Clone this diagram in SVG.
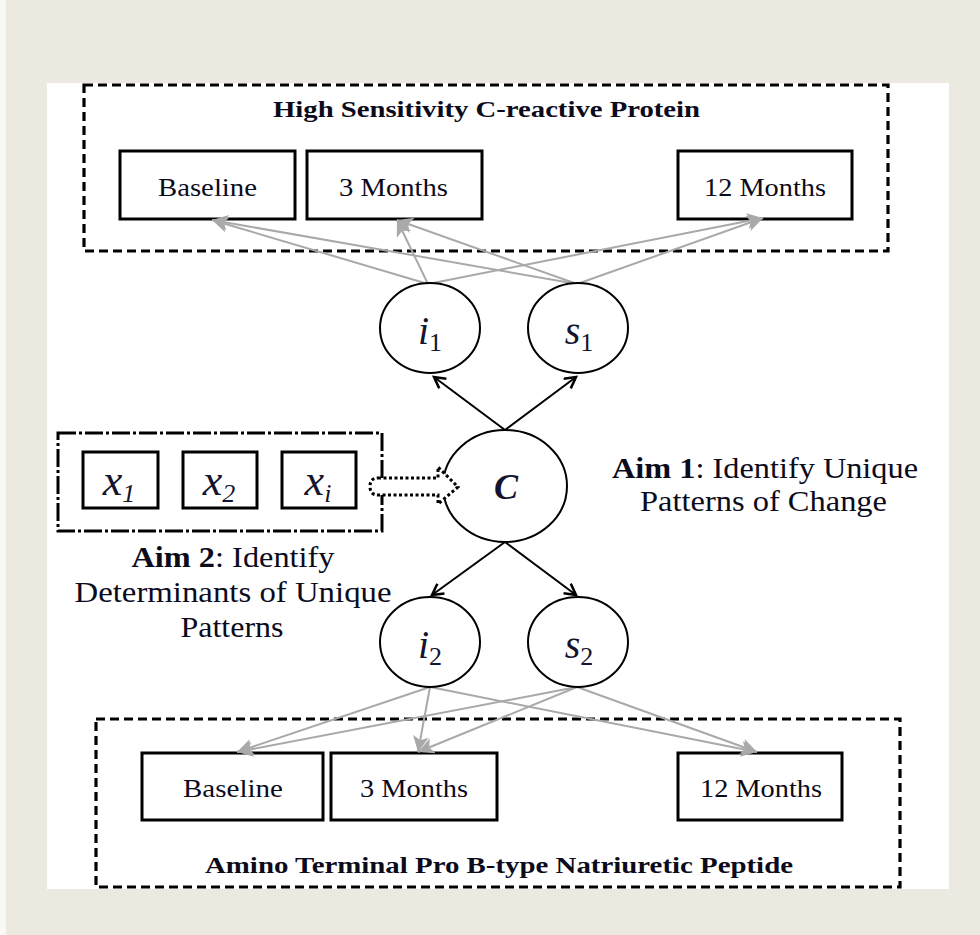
<svg xmlns="http://www.w3.org/2000/svg" width="980" height="935" viewBox="0 0 980 935">
  <style>
    .lbl { font-family: "Liberation Serif", "Times New Roman", serif; fill: #0b0b1c; }
    .ttl { font-family: "Liberation Serif", "Times New Roman", serif; font-weight: bold; font-size: 24px; fill: #0b0b1c; }
    .math { font-family: "Liberation Serif", "Times New Roman", serif; font-style: italic; fill: #14142e; }
    .box { fill: #ffffff; stroke: #000000; stroke-width: 3; }
    .circ { fill: #ffffff; stroke: #000000; stroke-width: 2; }
    .grp { fill: none; stroke: #000000; stroke-width: 3.2; stroke-dasharray: 9 5; }
    .gray { stroke: #a9a9a9; stroke-width: 2; fill: none; marker-end: url(#grayHead); }
    .blk { stroke: #000000; stroke-width: 2; fill: none; marker-end: url(#blkHead); }
  </style>
  <defs>
    <marker id="grayHead" markerUnits="userSpaceOnUse" markerWidth="20" markerHeight="18" refX="16" refY="8" orient="auto">
      <path d="M0,0 L16,8 L0,16 L4,8 Z" fill="#a9a9a9"/>
    </marker>
    <marker id="blkHead" markerUnits="userSpaceOnUse" markerWidth="16" markerHeight="16" refX="12" refY="7" orient="auto">
      <path d="M1,1 L12,7 L1,13" fill="none" stroke="#000000" stroke-width="2.5"/>
    </marker>
  </defs>

  <!-- page background -->
  <rect x="0" y="0" width="980" height="935" fill="#ece9e0"/>
  <rect x="0" y="0" width="6" height="935" fill="#f8f8f5"/>
  <rect x="47" y="83" width="902" height="806" fill="#ffffff"/>

  <!-- hs-CRP block -->
  <g id="crp-group">
    <rect class="grp" x="84" y="85" width="804" height="166"/>
    <text class="ttl" x="486.5" y="117" text-anchor="middle" textLength="427" lengthAdjust="spacingAndGlyphs">High Sensitivity C-reactive Protein</text>
  </g>
  <g id="crp-baseline">
    <rect class="box" x="120" y="151" width="175" height="68"/>
    <text class="lbl" x="207.5" y="196" font-size="25" text-anchor="middle" textLength="99" lengthAdjust="spacingAndGlyphs">Baseline</text>
  </g>
  <g id="crp-3m">
    <rect class="box" x="307" y="151" width="175" height="68"/>
    <text class="lbl" x="393.5" y="196" font-size="25" text-anchor="middle" textLength="109" lengthAdjust="spacingAndGlyphs">3 Months</text>
  </g>
  <g id="crp-12m">
    <rect class="box" x="678" y="151" width="174" height="68"/>
    <text class="lbl" x="765" y="196" font-size="25" text-anchor="middle" textLength="122" lengthAdjust="spacingAndGlyphs">12 Months</text>
  </g>

  <!-- NT-proBNP block -->
  <g id="bnp-group">
    <rect class="grp" x="96" y="719" width="804" height="168"/>
    <text class="ttl" x="499" y="873" text-anchor="middle" textLength="588" lengthAdjust="spacingAndGlyphs">Amino Terminal Pro B-type Natriuretic Peptide</text>
  </g>
  <g id="bnp-baseline">
    <rect class="box" x="142" y="753" width="181" height="67"/>
    <text class="lbl" x="233" y="797" font-size="25" text-anchor="middle" textLength="100" lengthAdjust="spacingAndGlyphs">Baseline</text>
  </g>
  <g id="bnp-3m">
    <rect class="box" x="331" y="753" width="166" height="67"/>
    <text class="lbl" x="414" y="797" font-size="25" text-anchor="middle" textLength="108" lengthAdjust="spacingAndGlyphs">3 Months</text>
  </g>
  <g id="bnp-12m">
    <rect class="box" x="678" y="753" width="164" height="67"/>
    <text class="lbl" x="761" y="797" font-size="25" text-anchor="middle" textLength="122" lengthAdjust="spacingAndGlyphs">12 Months</text>
  </g>

  <!-- connectors -->
  <g id="connectors">
    <line class="gray" x1="428" y1="284" x2="212" y2="220"/>
    <line class="gray" x1="428" y1="284" x2="397" y2="220"/>
    <line class="gray" x1="428" y1="284" x2="763" y2="218"/>
    <line class="gray" x1="577" y1="284" x2="212" y2="220"/>
    <line class="gray" x1="577" y1="284" x2="397" y2="220"/>
    <line class="gray" x1="577" y1="284" x2="763" y2="218"/>

    <line class="gray" x1="430" y1="687" x2="237" y2="752"/>
    <line class="gray" x1="430" y1="687" x2="418" y2="752"/>
    <line class="gray" x1="430" y1="687" x2="757" y2="752"/>
    <line class="gray" x1="577" y1="687" x2="237" y2="752"/>
    <line class="gray" x1="577" y1="687" x2="418" y2="752"/>
    <line class="gray" x1="577" y1="687" x2="757" y2="752"/>

    <line class="blk" x1="505" y1="430" x2="434" y2="377"/>
    <line class="blk" x1="505" y1="430" x2="576" y2="377"/>
    <line class="blk" x1="505" y1="542" x2="432" y2="595"/>
    <line class="blk" x1="505" y1="542" x2="576" y2="595"/>
  </g>

  <!-- latent growth factors -->
  <g id="i1">
    <ellipse class="circ" cx="430" cy="328" rx="50" ry="45"/>
    <text class="math" x="430" y="344" font-size="40" text-anchor="middle">i<tspan font-style="normal" font-size="26" dy="7">1</tspan></text>
  </g>
  <g id="s1">
    <ellipse class="circ" cx="578" cy="328" rx="50" ry="45"/>
    <text class="math" x="579" y="344" font-size="40" text-anchor="middle">s<tspan font-style="normal" font-size="26" dy="7">1</tspan></text>
  </g>
  <g id="i2">
    <ellipse class="circ" cx="430" cy="642" rx="50" ry="45"/>
    <text class="math" x="430" y="658" font-size="40" text-anchor="middle">i<tspan font-style="normal" font-size="26" dy="7">2</tspan></text>
  </g>
  <g id="s2">
    <ellipse class="circ" cx="578" cy="642" rx="50" ry="45"/>
    <text class="math" x="579" y="658" font-size="40" text-anchor="middle">s<tspan font-style="normal" font-size="26" dy="7">2</tspan></text>
  </g>

  <!-- latent class -->
  <g id="C">
    <ellipse class="circ" cx="505" cy="486" rx="62" ry="56"/>
    <text class="math" x="506" y="499" font-size="36" font-weight="bold" text-anchor="middle">C</text>
  </g>

  <!-- covariates -->
  <g id="covariates">
    <rect x="58" y="433" width="324" height="98" fill="none" stroke="#000000" stroke-width="3" stroke-dasharray="18 3 3 3"/>
    <rect class="box" x="83" y="452" width="75" height="56"/>
    <text class="math" x="119" y="495" font-size="44" text-anchor="middle">x<tspan font-size="26" dy="7">1</tspan></text>
    <rect class="box" x="183" y="452" width="74" height="56"/>
    <text class="math" x="219" y="495" font-size="44" text-anchor="middle">x<tspan font-size="26" dy="7">2</tspan></text>
    <rect class="box" x="282" y="452" width="74" height="56"/>
    <text class="math" x="318" y="495" font-size="44" text-anchor="middle">x<tspan font-size="26" dy="7">i</tspan></text>
  </g>

  <!-- hollow dotted arrow into C -->
  <g id="covariate-arrow">
    <path d="M378,478 L438,478 L438,467 L458,487 L438,504 L438,495 L378,495 Q370,495 370,486.5 Q370,478 378,478 Z" fill="#ffffff" stroke="#000000" stroke-width="3" stroke-dasharray="3 2.5"/>
  </g>

  <!-- aims -->
  <g id="aim1">
    <text class="lbl" x="765" y="478" font-size="29" text-anchor="middle" textLength="306" lengthAdjust="spacingAndGlyphs"><tspan font-weight="bold">Aim 1</tspan>: Identify Unique</text>
    <text class="lbl" x="763.5" y="511" font-size="29" text-anchor="middle" textLength="247" lengthAdjust="spacingAndGlyphs">Patterns of Change</text>
  </g>
  <g id="aim2">
    <text class="lbl" x="233" y="567" font-size="29" text-anchor="middle" textLength="203" lengthAdjust="spacingAndGlyphs"><tspan font-weight="bold">Aim 2</tspan>: Identify</text>
    <text class="lbl" x="233" y="602" font-size="29" text-anchor="middle" textLength="317" lengthAdjust="spacingAndGlyphs">Determinants of Unique</text>
    <text class="lbl" x="232" y="637" font-size="29" text-anchor="middle" textLength="103" lengthAdjust="spacingAndGlyphs">Patterns</text>
  </g>
</svg>
